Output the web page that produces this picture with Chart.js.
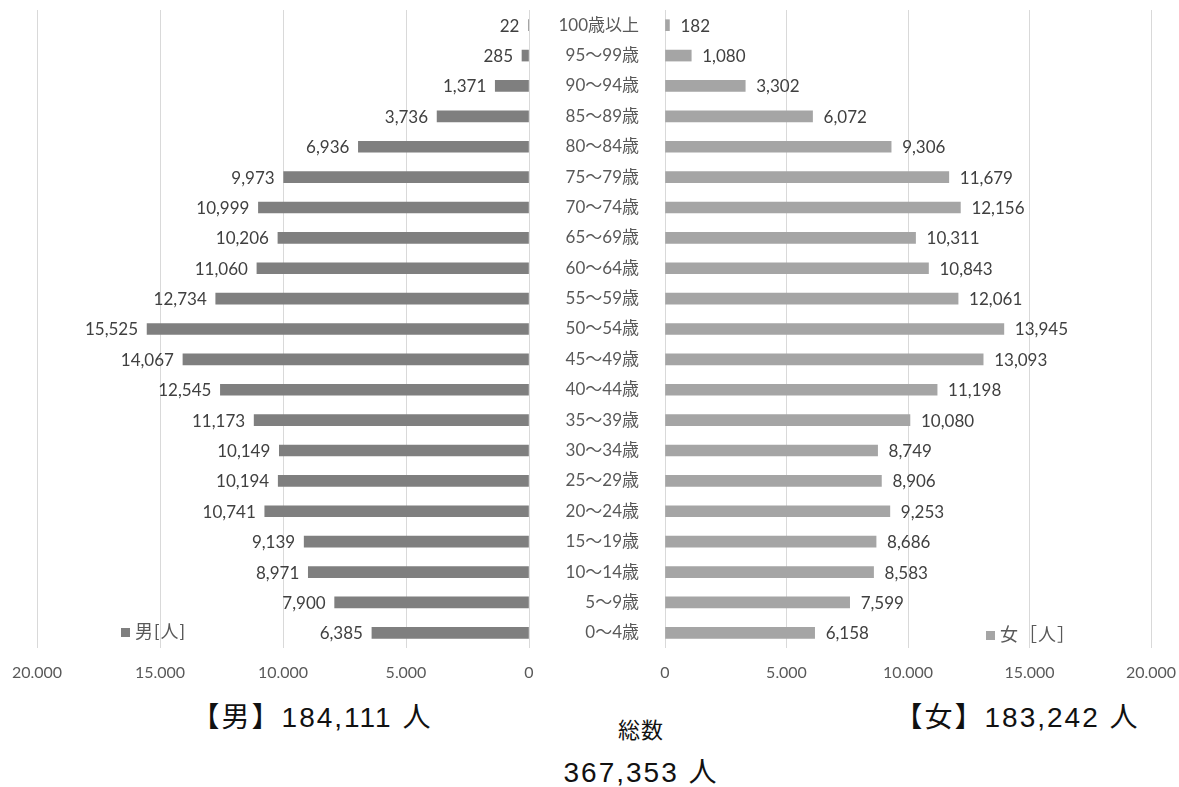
<!DOCTYPE html>
<html lang="ja">
<head>
<meta charset="utf-8">
<title>人口ピラミッド</title>
<script src="https://cdn.jsdelivr.net/npm/chart.js@4/dist/chart.umd.min.js"></script>
<style>
	html, body { margin: 0; padding: 0; background: #fff; }
	#wrap { position: relative; width: 1179px; height: 787px; overflow: hidden; font-family: "Noto Sans CJK JP", sans-serif; }
	canvas { position: absolute; top: 0; }
	#male { left: 0; }
	#female { left: 530px; }
	.legend { position: absolute; font-size: 18px; color: #595959; line-height: 20px; letter-spacing: 1px; font-family: Lato, "Noto Sans CJK JP", sans-serif; }
	.legend i { display: inline-block; width: 9px; height: 9px; margin-right: 5px; vertical-align: 1px; }
	.total { position: absolute; color: #111; font-size: 28px; line-height: 32px; letter-spacing: 2px; white-space: nowrap;
		transform: translateX(-50%); font-family: "Liberation Sans", "Noto Sans CJK JP", sans-serif; }
</style>
</head>
<body>
<div id="wrap">
	<canvas id="male" width="545" height="690"></canvas>
	<canvas id="female" width="649" height="690"></canvas>
	<div class="legend" style="left:121px; top:621px;"><i style="background:#7f7f7f"></i>男[人]</div>
	<div class="legend" style="left:986px; top:624px;"><i style="background:#a5a5a5"></i>女［人］</div>
	<div class="total" style="left:312px; top:702px;">【男】184,111 人</div>
	<div class="total" style="left:641px; top:715px; font-size:22px; letter-spacing:1px;">総数</div>
	<div class="total" style="left:641px; top:757px;">367,353 人</div>
	<div class="total" style="left:1017px; top:702px;">【女】183,242 人</div>
</div>
<script>
'use strict'

const AGE_GROUPS = ['100歳以上', '95～99歳', '90～94歳', '85～89歳', '80～84歳', '75～79歳', '70～74歳',
	'65～69歳', '60～64歳', '55～59歳', '50～54歳', '45～49歳', '40～44歳', '35～39歳', '30～34歳',
	'25～29歳', '20～24歳', '15～19歳', '10～14歳', '5～9歳', '0～4歳']
const MALE = [22, 285, 1371, 3736, 6936, 9973, 10999, 10206, 11060, 12734, 15525, 14067, 12545,
	11173, 10149, 10194, 10741, 9139, 8971, 7900, 6385]
const FEMALE = [182, 1080, 3302, 6072, 9306, 11679, 12156, 10311, 10843, 12061, 13945, 13093, 11198,
	10080, 8749, 8906, 9253, 8686, 8583, 7599, 6158]
const X_MAX = 20000
const X_STEP = 5000

const LABEL_FONT = 'Lato, "Noto Sans CJK JP", sans-serif'
const fmt = v => v.toLocaleString('en-US')

// value labels at the end of each bar
const valueLabels = {
	id: 'valueLabels',
	afterDatasetsDraw(chart, args, opts) {
		const ctx = chart.ctx
		const meta = chart.getDatasetMeta(0)
		const data = chart.data.datasets[0].data
		ctx.save()
		ctx.font = '17px ' + LABEL_FONT
		ctx.fillStyle = '#404040'
		ctx.textBaseline = 'middle'
		ctx.textAlign = opts.side === 'left' ? 'right' : 'left'
		meta.data.forEach((bar, i) => {
			const x = opts.side === 'left' ? bar.x - 9 : bar.x + 11
			ctx.fillText(fmt(data[i]), x, bar.y + 1)
		})
		ctx.restore()
	}
}

// fixed axis sizes so both halves line up
const xScale = reverse => ({
	reverse: reverse,
	min: 0,
	max: X_MAX,
	border: { display: false },
	grid: { color: '#d9d9d9', drawTicks: false },
	afterFit: scale => {
		scale.height = 30
		scale.paddingLeft = 0
		scale.paddingRight = 0
	},
	ticks: {
		stepSize: X_STEP,
		padding: 15,
		color: '#595959',
		font: { size: 16, family: LABEL_FONT },
		callback: v => fmt(v)
	}
})

new Chart(document.getElementById('male'), {
	type: 'bar',
	data: {
		labels: AGE_GROUPS,
		datasets: [{ label: '男[人]', data: MALE, backgroundColor: '#7f7f7f', barThickness: 11 }]
	},
	options: {
		indexAxis: 'y',
		responsive: false,
		animation: false,
		layout: { padding: { left: 37, right: 16, top: 10, bottom: 12 } },
		scales: {
			x: xScale(true),
			y: { display: false }
		},
		plugins: {
			legend: { display: false },
			tooltip: { enabled: false },
			valueLabels: { side: 'left' }
		}
	},
	plugins: [valueLabels]
})

new Chart(document.getElementById('female'), {
	type: 'bar',
	data: {
		labels: AGE_GROUPS,
		datasets: [{ label: '女［人］', data: FEMALE, backgroundColor: '#a5a5a5', barThickness: 11 }]
	},
	options: {
		indexAxis: 'y',
		responsive: false,
		animation: false,
		layout: { padding: { left: 0, right: 28, top: 10, bottom: 12 } },
		scales: {
			x: xScale(false),
			y: {
				border: { display: false },
				grid: { display: false },
				afterFit: scale => {
					scale.width = 135
					scale.paddingTop = 0
					scale.paddingBottom = 0
				},
				ticks: {
					padding: 18,
					color: '#595959',
					font: { size: 17, family: LABEL_FONT }
				}
			}
		},
		plugins: {
			legend: { display: false },
			tooltip: { enabled: false },
			valueLabels: { side: 'right' }
		}
	},
	plugins: [valueLabels]
})
</script>
</body>
</html>
